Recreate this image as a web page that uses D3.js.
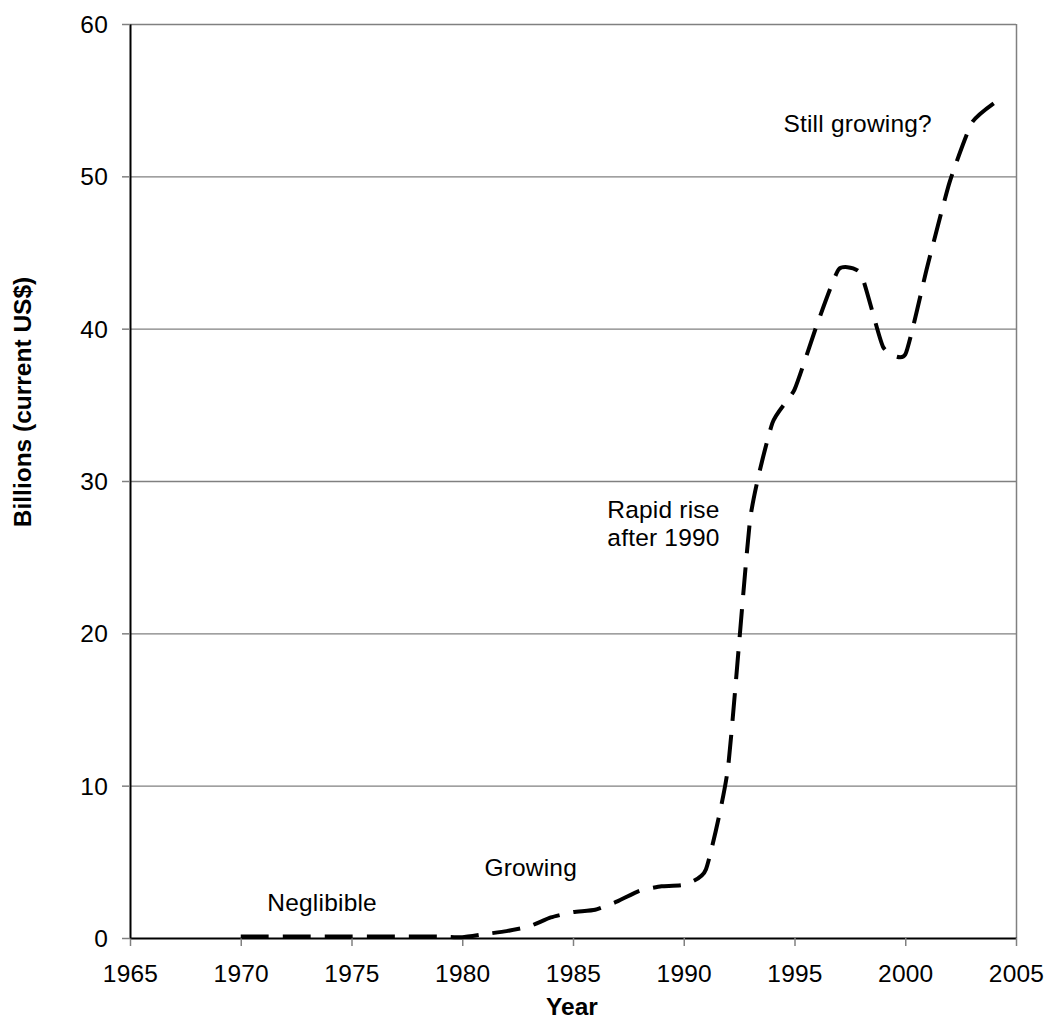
<!DOCTYPE html>
<html>
<head>
<meta charset="utf-8">
<script src="https://cdn.jsdelivr.net/npm/d3@7"></script>
<style>
  html, body { margin: 0; padding: 0; background: #fff; }
  svg { display: block; font-family: "Liberation Sans", Arial, sans-serif; }
</style>
</head>
<body>
<svg id="chart" width="1047" height="1019"></svg>
<script>
const years = [1970,1971,1972,1973,1974,1975,1976,1977,1978,1979,1980,1981,1982,1983,1984,1985,1986,1987,1988,1989,1990,1991,1992,1993,1994,1995,1996,1997,1998,1999,2000,2001,2002,2003,2004];
const values = [0.1,0.1,0.1,0.1,0.1,0.1,0.1,0.1,0.1,0.1,0.05,0.25,0.45,0.75,1.35,1.7,1.85,2.4,3.1,3.4,3.5,4.5,11.2,27.5,33.8,36.0,40.2,43.9,43.6,38.8,38.3,44.1,49.6,53.5,54.8];
const xTicks = [1965,1970,1975,1980,1985,1990,1995,2000,2005];
const yTicks = [0,10,20,30,40,50,60];
const annotations = [
  { lines: ["Neglibible"], year: 1971.2, value: 1.8 },
  { lines: ["Growing"], year: 1981.0, value: 4.1 },
  { lines: ["Rapid rise", "after 1990"], year: 1986.55, value: 27.6 },
  { lines: ["Still growing?"], year: 1994.5, value: 52.9 }
];
const xTitle = "Year";
const yTitle = "Billions (current US$)";

const svg = d3.select("#chart");
const L = 130, R = 1016, T = 24, B = 938;
const x = d3.scaleLinear().domain([1965, 2005]).range([L, R]);
const y = d3.scaleLinear().domain([0, 60]).range([B, T]);
const gray = "#808080";
const FS = 24.5;
const LS = "0.2px";

// gridlines
svg.append("g").selectAll("line").data(yTicks.filter(d => d > 0)).join("line")
  .attr("x1", L).attr("x2", R)
  .attr("y1", d => y(d) + 0.5).attr("y2", d => y(d) + 0.5)
  .attr("stroke", gray).attr("stroke-width", 1.3);

// right border
svg.append("line").attr("x1", R + 0.5).attr("x2", R + 0.5).attr("y1", T).attr("y2", B)
  .attr("stroke", gray).attr("stroke-width", 1.5);

// x axis
const xAxis = svg.append("g").attr("transform", `translate(0,${B})`)
  .call(d3.axisBottom(x).tickValues(xTicks).tickFormat(d3.format("d")).tickSize(8).tickSizeOuter(0));
xAxis.select(".domain").attr("stroke", "#000").attr("stroke-width", 2);
xAxis.selectAll(".tick line").attr("stroke", gray).attr("stroke-width", 1.5);
xAxis.selectAll(".tick text").attr("y", 44).attr("dy", 0)
  .attr("font-size", FS).attr("letter-spacing", LS).attr("fill", "#000").attr("font-family", "Liberation Sans, Arial, sans-serif");

// y axis
const yAxis = svg.append("g").attr("transform", `translate(${L},0)`)
  .call(d3.axisLeft(y).tickValues(yTicks).tickFormat(d3.format("d")).tickSize(8).tickPadding(14).tickSizeOuter(0));
yAxis.select(".domain").attr("stroke", "#000").attr("stroke-width", 2);
yAxis.selectAll(".tick line").attr("stroke", gray).attr("stroke-width", 1.5);
yAxis.selectAll(".tick text").attr("dy", "0.35em")
  .attr("font-size", FS).attr("letter-spacing", LS).attr("fill", "#000").attr("font-family", "Liberation Sans, Arial, sans-serif");

// data line
const line = d3.line()
  .x((d, i) => x(years[i]))
  .y(d => y(d))
  .curve(d3.curveCardinal.tension(0.5));
svg.append("path")
  .attr("d", line(values))
  .attr("fill", "none")
  .attr("stroke", "#000")
  .attr("stroke-width", 4)
  .attr("stroke-dasharray", "28,14")
  .attr("stroke-linecap", "butt");

// annotations
annotations.forEach(a => {
  const t = svg.append("text")
    .attr("x", x(a.year)).attr("y", y(a.value))
    .attr("font-size", FS).attr("letter-spacing", LS).attr("fill", "#000");
  a.lines.forEach((ln, i) => {
    t.append("tspan").attr("x", x(a.year)).attr("dy", i === 0 ? 0 : 28).text(ln);
  });
});

// axis titles
svg.append("text").attr("x", 572).attr("y", 1015).attr("text-anchor", "middle")
  .attr("font-size", FS).attr("font-weight", "bold").text(xTitle);
svg.append("text").attr("transform", "translate(31,402) rotate(-90)").attr("text-anchor", "middle")
  .attr("font-size", FS).attr("font-weight", "bold").text(yTitle);
</script>
</body>
</html>
